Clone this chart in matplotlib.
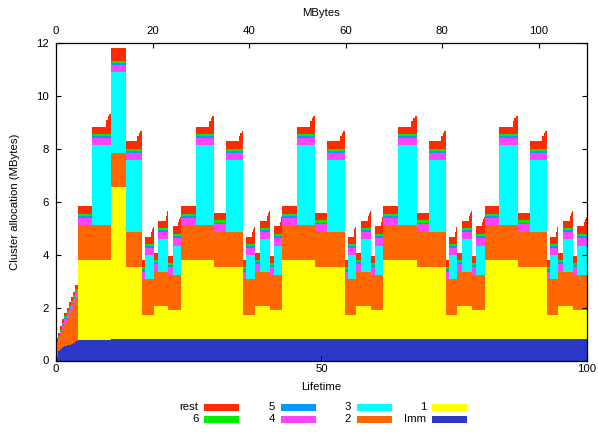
import numpy as np
import matplotlib
matplotlib.use("Agg")
import matplotlib.pyplot as plt
from matplotlib.patches import Rectangle

plt.rcParams['font.family'] = ['Liberation Sans', 'DejaVu Sans']
plt.rcParams['font.size'] = 8.2

# ---------------- data ----------------
# segment boundaries along "Lifetime" (last value = right end)
seg_edges = [
    0.0, 0.4, 0.8, 1.2, 1.6, 2.0, 2.4, 2.8, 3.2, 3.6,               # start-up ramp
    4.08, 6.78, 10.36, 13.18, 16.16, 16.76, 18.45, 19.27, 21.15, 21.97,
    23.48, 26.30, 29.76, 32.02, 35.29, 35.82, 37.45, 38.40, 40.28, 41.05,
    42.56, 45.34, 48.83, 51.09, 54.41, 55.02, 56.45, 57.45, 59.29, 60.09,
    61.64, 64.44, 67.91, 70.17, 73.47, 74.06, 75.55, 76.52, 78.36, 79.16,
    80.72, 83.48, 86.95, 89.25, 92.48, 93.06, 94.55, 95.47, 97.35, 98.12,
    100.0,
]

# layer thicknesses (MBytes) per segment
imm = [
    0.15, 0.35, 0.45, 0.50, 0.55, 0.58, 0.60, 0.62, 0.65, 0.72,
    0.78, 0.78, 0.80, 0.80, 0.80, 0.80, 0.80, 0.80, 0.80, 0.80,
    0.80, 0.80, 0.80, 0.80, 0.80, 0.80, 0.80, 0.80, 0.80, 0.80,
    0.80, 0.80, 0.80, 0.80, 0.80, 0.80, 0.80, 0.80, 0.80, 0.80,
    0.80, 0.80, 0.80, 0.80, 0.80, 0.80, 0.80, 0.80, 0.80, 0.80,
    0.80, 0.80, 0.80, 0.80, 0.80, 0.80, 0.80, 0.80, 0.80, 0.80,
]
one = [
    0, 0, 0, 0, 0, 0, 0, 0, 0, 0,
    3.02, 3.02, 5.74, 2.72, 0.92, 0.92, 1.24, 1.24, 1.11, 1.11,
    3.00, 3.00, 2.72, 2.72, 0.92, 0.92, 1.24, 1.24, 1.11, 1.11,
    3.00, 3.00, 2.72, 2.72, 0.92, 0.92, 1.24, 1.24, 1.11, 1.11,
    3.00, 3.00, 2.72, 2.72, 0.92, 0.92, 1.24, 1.24, 1.11, 1.11,
    3.00, 3.00, 2.72, 2.72, 0.92, 0.92, 1.24, 1.24, 1.11, 1.11,
]
two = [
    0.45, 0.43, 0.53, 0.70, 0.87, 1.02, 1.18, 1.34, 1.51, 1.68,
    1.31, 1.31, 1.29, 1.34, 1.35, 1.35, 1.32, 1.32, 1.33, 1.33,
    1.31, 1.31, 1.34, 1.34, 1.35, 1.35, 1.32, 1.32, 1.33, 1.33,
    1.31, 1.31, 1.34, 1.34, 1.35, 1.35, 1.32, 1.32, 1.33, 1.33,
    1.31, 1.31, 1.34, 1.34, 1.35, 1.35, 1.32, 1.32, 1.33, 1.33,
    1.31, 1.31, 1.34, 1.34, 1.35, 1.35, 1.32, 1.32, 1.33, 1.33,
]
three = [
    0, 0, 0, 0, 0, 0, 0, 0, 0, 0,
    0, 3.01, 3.05, 2.72, 0, 0.90, 0, 1.21, 0, 1.09,
    0, 3.01, 0, 2.72, 0, 0.90, 0, 1.21, 0, 1.09,
    0, 3.01, 0, 2.72, 0, 0.90, 0, 1.21, 0, 1.09,
    0, 3.01, 0, 2.72, 0, 0.90, 0, 1.21, 0, 1.09,
    0, 3.01, 0, 2.72, 0, 0.90, 0, 1.21, 0, 1.09,
]
four = [
    0.05, 0.08, 0.10, 0.12, 0.14, 0.15, 0.16, 0.17, 0.17, 0.17,
    0.27, 0.28, 0.28, 0.27, 0.29, 0.27, 0.27, 0.28, 0.28, 0.30,
    0.27, 0.28, 0.28, 0.27, 0.29, 0.27, 0.27, 0.28, 0.28, 0.30,
    0.27, 0.28, 0.28, 0.27, 0.29, 0.27, 0.27, 0.28, 0.28, 0.30,
    0.27, 0.28, 0.28, 0.27, 0.29, 0.27, 0.27, 0.28, 0.28, 0.30,
    0.27, 0.28, 0.28, 0.27, 0.29, 0.27, 0.27, 0.28, 0.28, 0.30,
]
five = [
    0.02, 0.03, 0.04, 0.05, 0.05, 0.06, 0.06, 0.06, 0.06, 0.06,
    0.07, 0.07, 0.07, 0.07, 0.08, 0.07, 0.08, 0.07, 0.08, 0.07,
    0.07, 0.07, 0.07, 0.07, 0.08, 0.07, 0.08, 0.07, 0.08, 0.07,
    0.07, 0.07, 0.07, 0.07, 0.08, 0.07, 0.08, 0.07, 0.08, 0.07,
    0.07, 0.07, 0.07, 0.07, 0.08, 0.07, 0.08, 0.07, 0.08, 0.07,
    0.07, 0.07, 0.07, 0.07, 0.08, 0.07, 0.08, 0.07, 0.08, 0.07,
]
six = [
    0.02, 0.03, 0.04, 0.05, 0.06, 0.06, 0.07, 0.07, 0.07, 0.07,
    0.08, 0.08, 0.08, 0.07, 0.08, 0.08, 0.08, 0.08, 0.08, 0.07,
    0.08, 0.08, 0.08, 0.07, 0.08, 0.08, 0.08, 0.08, 0.08, 0.07,
    0.08, 0.08, 0.08, 0.07, 0.08, 0.08, 0.08, 0.08, 0.08, 0.07,
    0.08, 0.08, 0.08, 0.07, 0.08, 0.08, 0.08, 0.08, 0.08, 0.07,
    0.08, 0.08, 0.08, 0.07, 0.08, 0.08, 0.08, 0.08, 0.08, 0.07,
]
rest = [
    0.16, 0.13, 0.14, 0.13, 0.13, 0.13, 0.13, 0.14, 0.14, 0.15,
    0.29, 0.27, 0.49, 0.31, 0.27, 0.29, 0.27, 0.27, 0.27, 0.30,
    0.29, 0.27, 0.27, 0.31, 0.27, 0.29, 0.27, 0.27, 0.27, 0.30,
    0.29, 0.27, 0.27, 0.31, 0.27, 0.29, 0.27, 0.27, 0.27, 0.30,
    0.29, 0.27, 0.27, 0.31, 0.27, 0.29, 0.27, 0.27, 0.27, 0.30,
    0.29, 0.27, 0.27, 0.31, 0.27, 0.29, 0.27, 0.27, 0.27, 0.30,
]
# growth of "rest" toward the end of a segment
rest_rise = [
    0, 0, 0, 0, 0, 0, 0, 0, 0, 0,
    0, 0.50, 0, 0.37, 0, 0.37, 0, 0.37, 0, 0.33,
    0, 0.42, 0, 0.37, 0, 0.37, 0, 0.37, 0, 0.33,
    0, 0.42, 0, 0.37, 0, 0.37, 0, 0.37, 0, 0.33,
    0, 0.42, 0, 0.37, 0, 0.37, 0, 0.37, 0, 0.33,
    0, 0.42, 0, 0.37, 0, 0.37, 0, 0.37, 0, 0.33,
]

layer_names = ['Imm', '1', '2', '3', '4', '5', '6', 'rest']
layer_colors = ['#2b38c8', '#ffff00', '#ff6600', '#00ffff',
                '#ff44ff', '#0099ff', '#00ee00', '#ff2a00']
lifetime_ticks = [0, 50, 100]
mbytes_ticks = [0, 20, 40, 60, 80, 100]
mbytes_max = 110

# ---------------- build step arrays ----------------
layers = [imm, one, two, three, four, five, six, rest]
xs = []
vals = [[] for _ in layers]
for i in range(len(imm)):
    x0, x1 = seg_edges[i], seg_edges[i + 1]
    r = rest_rise[i]
    if r > 0:
        fr, add = [0, 0.72, 0.82, 0.90], [0, 0.5, 0.8, 1.0]
    else:
        fr, add = [0], [0]
    for f, a in zip(fr, add):
        xs.append(x0 + f * (x1 - x0))
        for k in range(len(layers)):
            vals[k].append(layers[k][i] + (r * a if k == 7 else 0.0))
xs.append(seg_edges[-1])
cum = np.cumsum(np.array(vals), axis=0)

# ---------------- figure ----------------
W, H = 598, 432
fig = plt.figure(figsize=(W / 100, H / 100), dpi=100)
L, R, T, B = 56, 587, 42.7, 360.5
ax = fig.add_axes([L / W, 1 - B / H, (R - L) / W, (B - T) / H])

for k in reversed(range(len(layers))):
    ax.stairs(cum[k], xs, baseline=0, fill=True, color=layer_colors[k],
              lw=0, zorder=1)

ax.set_xlim(0, 100)
ax.set_ylim(0, 12)
ax.set_xticks(lifetime_ticks)
ax.set_yticks(range(0, 13, 2))
ax.tick_params(direction='in', length=3.6, width=0.8, top=True, right=True,
               labeltop=False, labelright=False)
ax.tick_params(axis='x', pad=2.5)
ax.tick_params(axis='y', pad=5.0)
for s in ax.spines.values():
    s.set_linewidth(0.9)

ax2 = ax.twiny()
ax2.set_xlim(0, mbytes_max)
ax2.set_xticks(mbytes_ticks)
ax2.tick_params(direction='in', length=3.6, width=0.8, pad=5.0)
for s in ax2.spines.values():
    s.set_visible(False)

fig.text((L + R) / 2 / W, 1 - 387 / H, 'Lifetime', ha='center', va='center')
fig.text((L + R) / 2 / W, 1 - 13.5 / H, 'MBytes', ha='center', va='center')
fig.text(15 / W, 1 - (T + B) / 2 / H, 'Cluster allocation (MBytes)',
         rotation=90, ha='center', va='center')

# ---------------- legend (gnuplot style) ----------------
legend_order = [7, 6, 5, 4, 3, 2, 1, 0]   # rest,6 | 5,4 | 3,2 | 1,Imm
col_x = [204.3, 280.7, 356.7, 432.3]
row_y = [407.3, 419.3]
sw_w, sw_h = 35, 6.5
for n, k in enumerate(legend_order):
    c, r = n // 2, n % 2
    x, y = col_x[c], row_y[r]
    fig.patches.append(Rectangle((x / W, 1 - (y + sw_h / 2) / H), sw_w / W, sw_h / H,
                                 transform=fig.transFigure, facecolor=layer_colors[k],
                                 edgecolor='none'))
    fig.text((x - 6) / W, 1 - y / H, layer_names[k], ha='right', va='center')

fig.savefig('out.png', dpi=100)
